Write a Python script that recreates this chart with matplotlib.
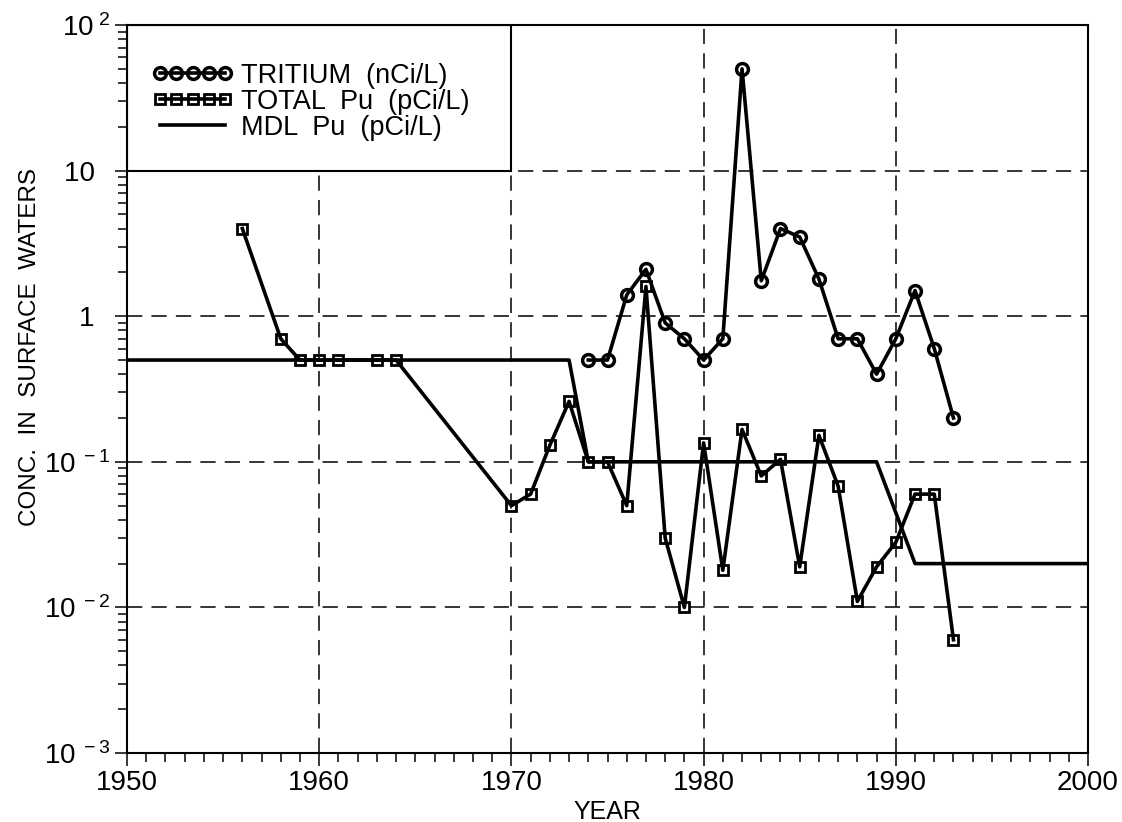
import numpy as np
import matplotlib
matplotlib.use("Agg")
import matplotlib.pyplot as plt
from matplotlib.ticker import MultipleLocator, LogLocator, FixedLocator, FuncFormatter, NullFormatter
from matplotlib.patches import Rectangle

plt.rcParams['font.family'] = ['Liberation Sans', 'DejaVu Sans']
plt.rcParams['mathtext.fontset'] = 'custom'
plt.rcParams['mathtext.rm'] = 'Liberation Sans'
plt.rcParams['mathtext.it'] = 'Liberation Sans:italic'
plt.rcParams['mathtext.bf'] = 'Liberation Sans:bold'

# tritium in nCi/L
tritium_years = list(range(1974, 1994))
tritium_conc = [0.5, 0.5, 1.4, 2.1, 0.9, 0.7, 0.5, 0.7, 50.0, 1.75,
                4.0, 3.5, 1.8, 0.7, 0.7, 0.4, 0.7, 1.5, 0.6, 0.2]

# total plutonium in pCi/L
pu_years = [1956, 1958, 1959, 1960, 1961, 1963, 1964] + list(range(1970, 1994))
pu_conc = [4.0, 0.7, 0.5, 0.5, 0.5, 0.5, 0.5,
           0.05, 0.06, 0.13, 0.26, 0.1, 0.1, 0.05, 1.6, 0.03, 0.01,
           0.135, 0.018, 0.167, 0.08, 0.104, 0.019, 0.152, 0.068,
           0.011, 0.019, 0.028, 0.06, 0.06, 0.006]

# minimum detection level for Pu
mdl_years = [1950, 1973, 1974, 1989, 1991, 2000]
mdl_conc = [0.5, 0.5, 0.1, 0.1, 0.02, 0.02]

legend_labels = ['TRITIUM  (nCi/L)', 'TOTAL  Pu  (pCi/L)', 'MDL  Pu  (pCi/L)']
legend_corner = (1970, 10)   # lower right corner of the legend frame

fig = plt.figure(figsize=(11.22, 8.22), dpi=100)
ax = fig.add_axes([0.1132, 0.0839, 0.8565, 0.8857])

ax.plot(tritium_years, tritium_conc, color='black', lw=2.6, marker='o', ms=8.5,
        mfc='none', mec='black', mew=2.5, label=legend_labels[0], zorder=3)
ax.plot(pu_years, pu_conc, color='black', lw=2.6, marker='s', ms=7,
        mfc='none', mec='black', mew=2.0, label=legend_labels[1], zorder=3)
ax.plot(mdl_years, mdl_conc, color='black', lw=2.6, label=legend_labels[2], zorder=2)

ax.set_yscale('log')
ax.set_xlim(1950, 2000)
ax.set_ylim(1e-3, 1e2)

ax.xaxis.set_major_locator(MultipleLocator(10))
ax.xaxis.set_minor_locator(MultipleLocator(1))
ax.yaxis.set_major_locator(FixedLocator([1e-3, 1e-2, 1e-1, 1, 10, 100]))
ax.yaxis.set_minor_locator(LogLocator(base=10, subs=np.arange(2, 10)))
ax.yaxis.set_minor_formatter(NullFormatter())


def ytick_label(v, pos):
    e = int(round(np.log10(v)))
    if e == 0:
        return '1  '
    if e == 1:
        return '10  '
    return r'$\mathregular{10^{\ %d}}$' % e


ax.yaxis.set_major_formatter(FuncFormatter(ytick_label))

ax.set_axisbelow(True)
ax.grid(True, which='major', color='black', lw=1.1, ls=(0, (10, 6)))

# legend frame sits in the upper left corner of the plot
frame = Rectangle((ax.get_xlim()[0], legend_corner[1]),
                  legend_corner[0] - ax.get_xlim()[0],
                  ax.get_ylim()[1] - legend_corner[1],
                  facecolor='white', edgecolor='black', lw=1.5, zorder=1)
ax.add_patch(frame)

ax.tick_params(which='major', direction='out', length=9, width=1.1,
               labelsize=20, pad=3)
ax.tick_params(which='minor', direction='out', length=6.5, width=1.1)
ax.tick_params(top=False, right=False, which='both')
for s in ax.spines.values():
    s.set_linewidth(1.5)

ax.set_xlabel('YEAR', fontsize=18, va='top')
ax.xaxis.set_label_coords(0.5, -0.064)
ax.set_ylabel('CONC.  IN  SURFACE  WATERS', fontsize=17.5)
ax.yaxis.set_label_coords(-0.089, 0.558)

ax.legend(loc='upper left', bbox_to_anchor=(0.026, 0.948), frameon=False,
          borderaxespad=0, borderpad=0, numpoints=5, handlelength=3.0,
          handletextpad=0.3, labelspacing=0.0, fontsize=19.5)

fig.savefig('out.png', dpi=100)
